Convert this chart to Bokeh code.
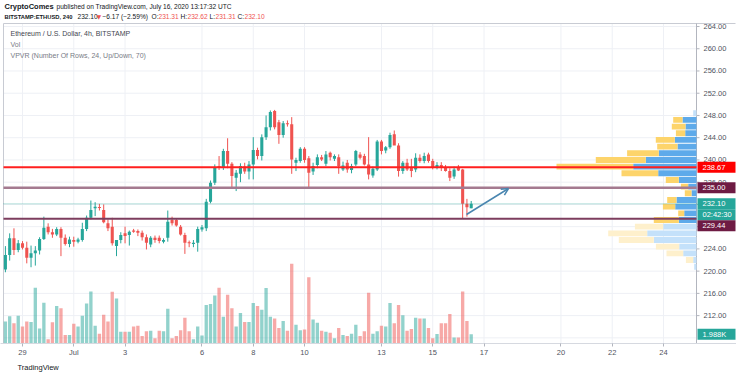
import numpy as np
import pandas as pd
from bokeh.plotting import figure
from bokeh.models import Range1d, FixedTicker, Arrow, OpenHead, ColumnDataSource, Title
from bokeh.core.properties import value
from bokeh.embed import file_html
from bokeh.resources import INLINE

# ---------------- data ----------------
start_time = "2020-06-28 08:00"   # first 4h candle
opens = [220.3, 222.9, 225.9, 223.8, 225.0, 224.2, 222.4, 223.2, 223.7, 225.8,
         228.0, 227.0, 226.6, 227.6, 226.0, 224.9, 225.6, 225.3, 225.6, 227.6,
         229.6, 231.3, 231.5, 231.0, 228.6, 228.0, 224.5, 225.6, 226.8, 226.5,
         227.3, 227.2, 226.9, 226.1, 224.8, 226.0, 226.0, 225.3, 226.0, 229.2,
         229.2, 228.0, 226.5, 225.2, 224.9, 225.1, 227.5, 227.7, 232.5, 235.9,
         238.9, 238.6, 241.6, 239.3, 236.8, 237.5, 238.8, 237.9, 239.2, 241.8,
         240.7, 244.1, 245.9, 248.8, 246.8, 244.5, 246.6, 246.4, 239.5, 239.8,
         242.0, 240.3, 237.9, 239.1, 240.5, 239.3, 241.3, 240.2, 240.5, 238.3,
         239.5, 238.2, 239.2, 241.0, 240.7, 239.2, 237.2, 238.3, 243.3, 241.7,
         242.3, 244.6, 242.6, 238.0, 239.5, 238.6, 238.3, 240.4, 239.8, 241.0,
         239.8, 238.6, 239.1, 238.6, 238.0, 237.0, 238.6, 238.3, 232.1, 231.31]
highs = [224.5, 226.8, 227.7, 225.6, 225.4, 225.3, 224.6, 224.5, 226.1, 229.8,
         228.6, 227.6, 227.9, 227.9, 226.6, 226.2, 226.2, 226.0, 228.7, 230.0,
         232.7, 232.4, 232.1, 232.0, 229.3, 229.6, 225.6, 227.0, 228.0, 227.3,
         227.6, 227.5, 227.3, 226.6, 226.3, 226.4, 226.4, 225.9, 230.9, 229.8,
         229.5, 228.3, 226.9, 225.5, 225.6, 228.0, 228.3, 233.0, 236.3, 239.2,
         240.7, 242.0, 243.9, 239.6, 238.2, 239.4, 239.5, 239.8, 244.1, 242.2,
         244.6, 248.0, 248.9, 249.0, 247.2, 247.0, 247.1, 247.7, 240.4, 242.3,
         242.3, 240.7, 239.5, 241.0, 240.9, 241.6, 241.5, 241.0, 241.0, 239.7,
         240.0, 239.3, 241.8, 241.4, 241.1, 244.1, 238.8, 243.6, 243.6, 242.5,
         244.9, 245.3, 243.0, 239.8, 240.2, 240.2, 241.2, 241.0, 241.3, 241.3,
         240.2, 239.6, 239.6, 239.1, 238.5, 238.8, 239.1, 238.4, 233.0, 232.62]
lows = [219.8, 221.9, 222.9, 223.4, 223.9, 221.4, 220.7, 221.0, 223.0, 225.6,
        226.6, 226.0, 226.3, 222.7, 224.6, 224.3, 224.4, 225.0, 225.3, 227.2,
        229.3, 229.9, 230.9, 228.6, 227.2, 224.6, 222.7, 225.0, 225.0, 224.6,
        226.9, 226.3, 225.5, 223.9, 224.3, 225.1, 225.0, 225.0, 225.3, 228.2,
        228.0, 226.4, 223.1, 224.3, 224.3, 223.5, 227.1, 227.2, 232.2, 235.5,
        238.2, 238.2, 238.5, 235.1, 234.4, 236.0, 237.5, 236.5, 236.5, 240.1,
        239.9, 243.6, 245.3, 245.5, 242.9, 244.0, 246.0, 237.5, 238.0, 239.5,
        239.5, 235.0, 237.3, 238.5, 239.8, 238.9, 239.9, 239.8, 237.5, 238.0,
        237.7, 237.6, 238.9, 240.1, 239.0, 236.5, 236.8, 238.0, 241.0, 241.2,
        242.0, 244.0, 237.0, 237.5, 238.0, 236.9, 237.8, 239.5, 239.4, 239.5,
        238.3, 238.3, 238.0, 237.9, 236.2, 236.6, 238.0, 229.44, 229.8, 231.31]
closes = [222.9, 225.9, 223.8, 225.0, 224.2, 222.4, 223.2, 223.7, 225.8, 227.8,
          227.0, 226.6, 227.6, 226.0, 224.9, 225.7, 225.3, 225.7, 227.6, 229.6,
          231.0, 231.6, 231.4, 228.8, 227.7, 225.0, 225.6, 226.5, 226.3, 227.1,
          227.1, 226.9, 226.1, 225.1, 226.0, 225.6, 225.4, 225.6, 228.9, 228.6,
          228.2, 226.6, 225.1, 225.0, 225.1, 227.6, 227.9, 232.5, 235.9, 238.7,
          238.6, 241.6, 239.3, 237.1, 237.7, 238.9, 237.9, 239.2, 241.8, 240.7,
          244.1, 245.9, 248.6, 245.9, 244.5, 246.6, 246.4, 240.1, 240.0, 242.0,
          240.0, 237.7, 238.9, 240.5, 240.1, 241.0, 240.5, 240.7, 238.9, 239.0,
          238.3, 238.9, 241.6, 240.4, 239.2, 237.4, 238.4, 243.3, 241.6, 242.3,
          244.5, 242.6, 238.0, 239.5, 238.3, 238.0, 240.4, 239.8, 240.7, 239.8,
          238.6, 239.1, 238.6, 238.0, 236.8, 238.3, 238.1, 232.1, 231.5, 232.10]
volumes_k = [4.7, 5.8, 4.3, 5.9, 3.6, 4.7, 4.6, 11.9, 3.2, 8.7,
             0.9, 4.5, 8.0, 7.5, 1.8, 1.8, 4.2, 3.6, 5.9, 8.5,
             11.1, 3.8, 2.1, 6.1, 4.7, 11.0, 9.6, 2.5, 2.5, 2.5,
             3.6, 3.8, 1.6, 2.6, 2.7, 1.1, 2.7, 2.6, 7.4, 1.1,
             1.6, 2.8, 5.5, 2.6, 0.9, 3.6, 1.7, 8.2, 8.4, 10.2,
             11.9, 5.7, 10.4, 7.5, 3.6, 6.5, 4.6, 4.6, 8.6, 8.0,
             7.2, 11.8, 5.7, 5.3, 3.3, 4.8, 2.7, 17.0, 4.0, 2.8,
             3.0, 14.1, 5.1, 4.4, 2.7, 2.5, 2.3, 1.1, 3.3, 1.8,
             1.6, 2.1, 4.0, 1.6, 2.6, 10.8, 2.1, 2.6, 3.8, 3.6,
             8.6, 4.3, 8.2, 6.0, 2.7, 3.1, 5.5, 5.3, 5.3, 3.3,
             1.1, 2.0, 4.3, 4.3, 6.3, 1.3, 1.3, 11.1, 4.8, 1.988]

# VPVR: 24 rows, bottom to top, up / down volume (relative units)
vp_low, vp_high, vp_rows = 220.2, 249.0, 24
vp_up = [2.3, 3.3, 13.3, 17.3, 42.7, 49.3, 33.3, 17.7, 12.3, 21.3, 20.0, 5.0,
         8.3, 17.7, 38.3, 63.3, 50.7, 37.7, 19.0, 21.7, 11.3, 11.0, 14.0, 3.3]
vp_down = [0.0, 7.3, 16.7, 23.3, 35.0, 39.0, 28.3, 25.0, 6.0, 12.3, 9.3, 6.7,
           7.3, 13.0, 36.7, 76.7, 50.0, 31.7, 20.3, 19.0, 9.3, 13.7, 9.3, 0.0]
vp_value_area = (7, 22)   # row indexes inside the 70% value area

level_red = 238.67
level_upper = 235.00
level_lower = 229.44
last_price = 232.10
change_text = "−6.17 (−2.59%)"
countdown = "02:42:30"

date_ticks = [0, 2, 4, 7, 9, 11, 14, 16, 18, 21, 23, 25]   # days after Jun 29
date_labels = ["29", "Jul", "3", "6", "8", "10", "13", "15", "17", "20", "22", "24"]
price_ticks = list(range(212, 265, 4))
grid_prices = list(range(208, 265, 4))

# ---------------- layout helpers (pixel <-> data) ----------------
PX_PER_DAY = 25.64
PX_PER_USD = 5.56
VOL_K_PER_PX = 0.213
FONT = "Liberation Sans"
W, H = 736, 379
FRAME_BOTTOM = 343

def X(px):
    return (px - 22) / PX_PER_DAY

def Y(py):
    return 264 - (py - 26) / PX_PER_USD

def PY(price):
    return 26 + (264 - price) * PX_PER_USD

times = pd.date_range(start_time, periods=len(closes), freq="4h")
xd = ((times - pd.Timestamp("2020-06-29")) / pd.Timedelta(days=1)).to_numpy()

o = np.array(opens); c = np.array(closes); h = np.array(highs); l = np.array(lows)
up = c >= o
top = np.maximum(o, c); bot = np.minimum(o, c)
small = (top - bot) < 0.2
mid = (top + bot) / 2
top = np.where(small, mid + 0.1, top)
bot = np.where(small, mid - 0.1, bot)

UPC = "#26a69a"; DNC = "#ef5350"
colors = [UPC if u else DNC for u in up]
src = ColumnDataSource(dict(x=xd, h=h, l=l, top=top, bot=bot, vol=volumes_k, color=colors))

p = figure(width=W, height=H, output_backend="svg", toolbar_location=None,
           x_range=Range1d(X(0), X(W)), y_range=Range1d(Y(FRAME_BOTTOM), Y(0)),
           min_border_left=0, min_border_right=0, min_border_top=0,
           min_border_bottom=H - FRAME_BOTTOM)
p.extra_y_ranges = {"vol": Range1d(0, FRAME_BOTTOM * VOL_K_PER_PX)}
p.background_fill_color = "white"
p.border_fill_color = "white"
p.outline_line_color = None
p.yaxis.visible = False
p.ygrid.visible = False
p.xgrid.visible = False

# date axis (library axis)
xa = p.xaxis[0]
xa.ticker = FixedTicker(ticks=date_ticks)
xa.major_label_overrides = {t: s for t, s in zip(date_ticks, date_labels)}
xa.major_label_text_font = FONT
xa.major_label_text_font_size = "7.5px"
xa.major_label_text_color = "#50535e"
xa.axis_line_color = "#d6d9e0"
xa.major_tick_line_color = "#b2b5be"
xa.major_tick_out = 3
xa.major_tick_in = 0
xa.minor_tick_line_color = None
xa.major_label_standoff = 1

# footer
p.add_layout(Title(text="TradingView", align="left", offset=17, text_font=FONT,
                   text_font_size="7.5px", text_font_style="normal", text_color="#131722",
                   standoff=2), "below")

x_left, x_right = X(3), X(696)
y_top = Y(23)

# grid
p.segment(x0=x_left, x1=x_right, y0=grid_prices, y1=grid_prices, line_color="#eef0f5", line_width=1)
p.segment(x0=date_ticks, x1=date_ticks, y0=Y(FRAME_BOTTOM), y1=y_top, line_color="#eef0f5", line_width=1)

# chart borders and price scale line
p.segment(x0=[X(3), X(3)], x1=[X(735), X(3)], y0=[y_top, y_top], y1=[y_top, Y(FRAME_BOTTOM)],
          line_color="#c8cbd3", line_width=1)
p.segment(x0=x_right, x1=x_right, y0=Y(FRAME_BOTTOM), y1=y_top, line_color="#b2b5be", line_width=1)
p.segment(x0=x_right, x1=X(699), y0=price_ticks, y1=price_ticks, line_color="#b2b5be", line_width=1)
p.text(x=X(703), y=price_ticks, text=[f"{v:.2f}" for v in price_ticks],
       text_font=value(FONT), text_font_size=value("7.5px"), text_color="#50535e",
       text_baseline="middle", text_align="left")

# volume
p.vbar(x="x", width=0.13, top="vol", bottom=0, source=src, y_range_name="vol",
       fill_color="color", line_color=None, fill_alpha=0.5)

# candles
p.segment(x0="x", x1="x", y0="l", y1="h", source=src, line_color="color", line_width=1)
p.vbar(x="x", width=0.12, top="top", bottom="bot", source=src, fill_color="color", line_color=None)

# VPVR
row_h = (vp_high - vp_low) / vp_rows
centers = [vp_low + (i + 0.5) * row_h for i in range(vp_rows)]
in_va = [vp_value_area[0] <= i <= vp_value_area[1] for i in range(vp_rows)]
up_left = [x_right - u / PX_PER_DAY for u in vp_up]
dn_left = [x_right - (u + d) / PX_PER_DAY for u, d in zip(vp_up, vp_down)]
p.hbar(y=centers, left=up_left, right=[x_right] * vp_rows, height=row_h * 0.88,
       fill_color=["#5eaaea" if v else "#c4e1fa" for v in in_va], line_color=None)
p.hbar(y=centers, left=dn_left, right=up_left, height=row_h * 0.88,
       fill_color=["#fdd46b" if v else "#fef0cc" for v in in_va], line_color=None)

# horizontal levels
p.segment(x0=x_left, x1=x_right, y0=level_upper, y1=level_upper, line_color="#a47a90", line_width=2.5)
p.segment(x0=x_left, x1=x_right, y0=level_lower, y1=level_lower, line_color="#7d3d5e", line_width=2)
p.segment(x0=x_left, x1=x_right, y0=last_price, y1=last_price, line_color=UPC, line_alpha=0.45,
          line_width=1.5, line_dash="1 1")
p.segment(x0=x_left, x1=x_right, y0=level_red, y1=level_red, line_color="#ff1f1f", line_width=2)

# arrow drawing
p.add_layout(Arrow(end=OpenHead(size=7, line_color="#4a86b0", line_width=1.5),
                   x_start=X(466), y_start=Y(214), x_end=X(508), y_end=Y(188),
                   line_color="#4a86b0", line_width=1.5))

# price-scale tags
TAG_H = 11
tag_text = [f"{level_red:.2f}", f"{level_upper:.2f}", f"{last_price:.2f}", countdown,
            f"{level_lower:.2f}", f"{volumes_k[-1]:.3f}K"]
tag_py = [PY(level_red), PY(level_upper), PY(last_price), PY(last_price) + TAG_H,
          PY(last_price) + 2 * TAG_H, FRAME_BOTTOM - volumes_k[-1] / VOL_K_PER_PX]
tag_bg = ["#ff0000", "#6e1b43", UPC, UPC, "#6e1b43", UPC]
tag_y = [Y(v) for v in tag_py]
p.quad(left=X(697), right=X(735), top=[Y(v - TAG_H / 2) for v in tag_py],
       bottom=[Y(v + TAG_H / 2) for v in tag_py], fill_color=tag_bg, line_color=None)
p.text(x=X(702), y=tag_y, text=tag_text, text_font=value(FONT), text_font_size=value("7.5px"),
       text_color="white", text_baseline="middle", text_align="left")

# header
def txt(px, py, s, color="#131722", size="6.6px", bold=False, font=FONT):
    p.text(x=[X(px)], y=[Y(py)], text=[s], text_font=value(font), text_font_size=value(size),
           text_font_style="bold" if bold else "normal", text_color=color,
           text_baseline="middle", text_align="left")

txt(4, 6, "CryptoComes", bold=True, size="7.5px")
txt(56, 6, "published on TradingView.com, July 16, 2020 13:17:32 UTC")
txt(4, 16, "BITSTAMP:ETHUSD, 240", bold=True, size="5.8px")
txt(77, 16, f"{last_price:.2f}")
txt(96, 16, "▼", color=DNC, size="6px", font="DejaVu Sans")
txt(102, 16, change_text)
for lx, key, vx, val in [(151, "O:", 158, opens[-1]), (180, "H:", 187, highs[-1]),
                         (209, "L:", 215, lows[-1]), (237, "C:", 244, closes[-1])]:
    txt(lx, 16, key)
    txt(vx, 16, f"{val:.2f}", color=DNC)

# pane legend
txt(10, 33, "Ethereum / U.S. Dollar, 4h, BITSTAMP", color="#434651", size="7px")
txt(10, 44, "Vol", color="#787b86", size="7px")
txt(10, 55, "VPVR (Number Of Rows, 24, Up/Down, 70)", color="#787b86", size="7px")

open("out.html", "w").write(file_html(p, INLINE))
